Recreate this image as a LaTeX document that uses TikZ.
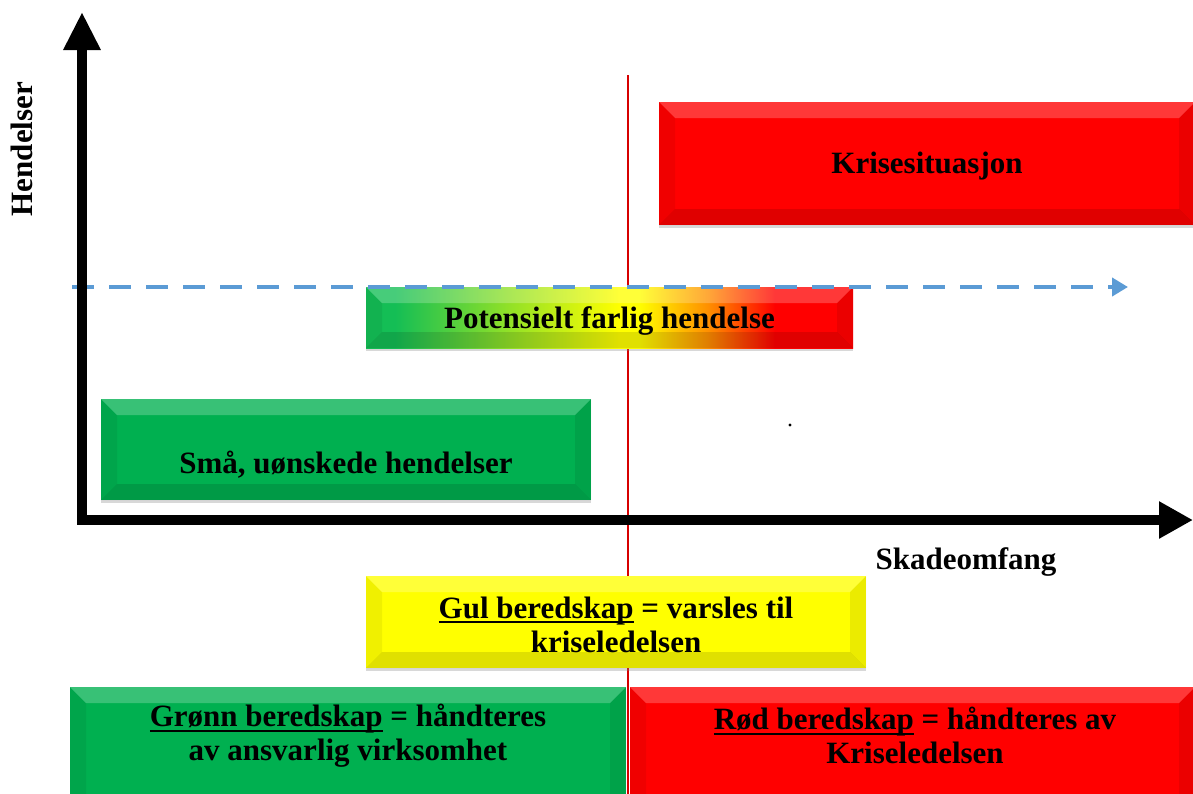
\documentclass[tikz,border=0pt]{standalone}
\usepackage{fontspec}
\setmainfont{Liberation Serif}
\usetikzlibrary{arrows.meta,shadows}
\definecolor{bgreen}{RGB}{0,176,80}
\definecolor{lgreen}{RGB}{20,190,85}
\definecolor{bred}{RGB}{255,0,0}
\definecolor{byellow}{RGB}{255,255,0}
\definecolor{dblue}{RGB}{91,155,213}
\definecolor{vline}{RGB}{215,0,0}
\definecolor{porange}{RGB}{255,145,0}
\pgfdeclarehorizontalshading{gyr}{100bp}{color(0bp)=(lgreen); color(28bp)=(lgreen); color(40bp)=(byellow!55!lgreen); color(51bp)=(byellow); color(53bp)=(byellow); color(60bp)=(porange); color(67bp)=(bred); color(100bp)=(bred)}
\newcommand{\bv}{8pt}
\newcommand{\ulw}[1]{{\setbox0\hbox{#1}\rlap{\rule[-2.6pt]{\wd0}{1pt}}\box0}}
\tikzset{
  bev/.style={path picture={
    \path (path picture bounding box.north west) coordinate (bnw)
          (path picture bounding box.north east) coordinate (bne)
          (path picture bounding box.south west) coordinate (bsw)
          (path picture bounding box.south east) coordinate (bse);
    \fill[white,opacity=0.22] (bnw) -- (bne) -- ([shift={(-\bv,-\bv)}]bne) -- ([shift={(\bv,-\bv)}]bnw) -- cycle;
    \fill[black,opacity=0.06] (bnw) -- ([shift={(\bv,-\bv)}]bnw) -- ([shift={(\bv,\bv)}]bsw) -- (bsw) -- cycle;
    \fill[black,opacity=0.08] (bne) -- (bse) -- ([shift={(-\bv,\bv)}]bse) -- ([shift={(-\bv,-\bv)}]bne) -- cycle;
    \fill[black,opacity=0.12] (bsw) -- ([shift={(\bv,\bv)}]bsw) -- ([shift={(-\bv,\bv)}]bse) -- (bse) -- cycle;
  }},
  box/.style={rectangle, inner sep=0pt, bev, drop shadow={shadow xshift=0pt, shadow yshift=-1.6pt, opacity=0.3}},
  txt/.style={font=\fontsize{15.5}{17}\selectfont\bfseries, align=center, text=black},
  axis/.style={line width=4.6pt, line join=miter, {Triangle[width=17.5pt,length=19pt]}-{Triangle[width=17.5pt,length=17pt]}},
  dasharrow/.style={dblue, line width=2pt, dash pattern=on 11pt off 7.5pt, -{Triangle[width=9pt,length=8pt]}}
}
\begin{document}
\begin{tikzpicture}[x=0.5pt,y=-0.5pt]
\useasboundingbox[fill=white] (0,0) rectangle (1193,793);
% red divider
\coordinate (vtop) at (628,75);
\coordinate (vbot) at (628,800);
\draw[vline, line width=1pt] (vtop) -- (vbot);
% boxes
\node[box, fill=bred, minimum width=268pt, minimum height=61.5pt] (kris) at (927,163.5) {};
\node[txt] (krist) at (927,166) {Krisesituasjon};
\node[box, shading=gyr, minimum width=243.5pt, minimum height=30.5pt] (pot) at (609.5,317.5) {};
\node[txt] (pott) at (609.5,320.5) {Potensielt farlig hendelse};
\node[box, fill=bgreen, minimum width=245pt, minimum height=50.5pt] (sma) at (346,449.5) {};
\node[txt] (smat) at (346,464.5) {Små, uønskede hendelser};
\node[box, fill=byellow, minimum width=250pt, minimum height=46pt] (gul) at (616,622) {};
\node[txt] (gult) at (616,624.5) {\ulw{Gul beredskap} = varsles til\\kriseledelsen};
\node[box, fill=bgreen, minimum width=278pt, minimum height=61.5pt] (gronn) at (348,748.5) {};
\node[txt] (gronnt) at (348,735.5) {\ulw{Grønn beredskap} = håndteres\\av ansvarlig virksomhet};
\node[box, fill=bred, minimum width=282.5pt, minimum height=61.5pt] (rod) at (912.5,748.5) {};
\node[txt] (rodt) at (915,735.5) {\ulw{Rød beredskap} = håndteres av\\Kriseledelsen};
% dashed threshold
\coordinate (dstart) at (72,287);
\coordinate (dend) at (1128,287);
\draw[dasharrow] (dstart) -- (dend);
% axes
\coordinate (ytip) at (82,12);
\coordinate (origin) at (82,520);
\coordinate (xtip) at (1193,520);
\draw[axis] (ytip) -- (origin) -- (xtip);
\node[txt, rotate=90] (ylab) at (22,149) {Hendelser};
\node[txt] (xlab) at (966,562) {Skadeomfang};
\fill (790,425) circle (0.8pt);
\end{tikzpicture}
\end{document}
